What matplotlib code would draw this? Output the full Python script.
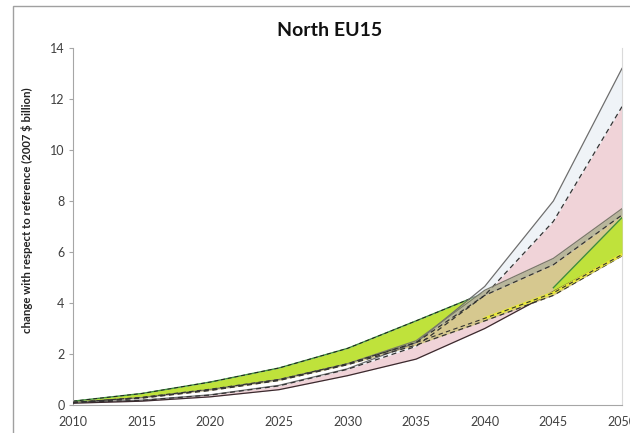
import numpy as np
import matplotlib
matplotlib.use('Agg')
import matplotlib.pyplot as plt
from matplotlib.patches import Rectangle

plt.rcParams['font.family'] = ['Lato', 'DejaVu Sans']

years = np.array([2010, 2015, 2020, 2025, 2030, 2035, 2040, 2045, 2050])

# scenario A: upper / median / lower
a_hi = np.array([0.10, 0.19, 0.40, 0.77, 1.42, 2.45, 4.65, 8.00, 13.20])
a_mid = np.array([0.10, 0.18, 0.39, 0.75, 1.40, 2.30, 4.30, 7.20, 11.70])
a_lo = np.array([0.07, 0.15, 0.32, 0.60, 1.15, 1.80, 3.00, 4.45, 5.90])

# scenario B (green)
b_hi = np.array([0.15, 0.45, 0.90, 1.45, 2.22, 3.30, 4.40, 4.60, 7.35])
b_lo = np.array([0.10, 0.30, 0.62, 1.00, 1.62, 2.45, 3.40, 4.40, 5.90])

# scenario C (tan)
c_hi = np.array([0.10, 0.29, 0.61, 1.00, 1.62, 2.52, 4.50, 5.75, 7.70])
c_mid = np.array([0.10, 0.28, 0.59, 0.98, 1.60, 2.45, 4.30, 5.50, 7.45])
c_lo = np.array([0.09, 0.27, 0.57, 0.96, 1.58, 2.35, 3.30, 4.30, 5.85])

fig = plt.figure(figsize=(6.3, 4.33), dpi=100)
ax = fig.add_axes([73/630, 1 - 405/433, 549/630, 357/433])

dash = (0, (4, 3))

# green band underneath
ax.fill_between(years, b_lo, b_hi, color='#BFE23B', lw=0, zorder=1)
ax.plot(years, b_hi, color='#3F8F3A', lw=1.0, zorder=1.5)
ax.plot(years, b_hi, color='#222222', lw=0.7, ls=dash, zorder=1.5)

# scenario A bands
ax.fill_between(years, a_mid, a_hi, color='#E2EAF2', alpha=0.55, lw=0, zorder=2)
ax.fill_between(years, a_lo, a_mid, color='#F0D3D8', lw=0, zorder=2)

# scenario C bands
ax.fill_between(years, c_mid, c_hi, color='#B8B69B', lw=0, zorder=3)
ax.fill_between(years, c_lo, c_mid, color='#D6C88F', lw=0, zorder=3)

# green band again on top for the last decade
late = years >= 2045
ax.fill_between(years, b_lo, b_hi, where=late, color='#BFE23B', lw=0, zorder=4)
ax.plot(years[late], b_hi[late], color='#3F8F3A', lw=1.0, zorder=6)

# edge lines
ax.plot(years, a_hi, color='#6E6E6E', lw=0.9, zorder=5)
ax.plot(years, a_mid, color='#333333', lw=0.9, ls=dash, zorder=5)
ax.plot(years, a_lo, color='#3A2A2E', lw=0.9, zorder=5)

ax.plot(years, c_hi, color='#7A7A6A', lw=0.9, zorder=5)
ax.plot(years, c_mid, color='#333333', lw=0.9, ls=dash, zorder=5)
ax.plot(years, c_lo, color='#333333', lw=0.9, ls=dash, zorder=5)

ax.plot(years[6:], b_lo[6:], color='#E9E93A', lw=2.0, zorder=6)
ax.plot(years, b_lo, color='#333333', lw=0.8, ls=dash, zorder=6)

ax.set_xlim(2010, 2050)
ax.set_ylim(0, 14)
ax.set_xticks(years)
ax.set_yticks(np.arange(0, 15, 2))

ax.spines['top'].set_visible(False)
ax.spines['right'].set_color('#DADADA')
ax.spines['left'].set_color('#A6A6A6')
ax.spines['bottom'].set_color('#A6A6A6')
ax.tick_params(axis='y', length=3, color='#A6A6A6', labelsize=9, labelcolor='#404040', pad=3)
ax.tick_params(axis='x', length=0, labelsize=9, labelcolor='#404040', pad=8)

ax.set_ylabel('change with respect to reference (2007 $ billion)', fontsize=8.2,
              fontweight='bold', color='#222222')
ax.yaxis.set_label_coords(-0.073, 0.546)

fig.text(330/630, 1 - 30/433, 'North EU15', ha='center', va='center',
         fontsize=14, fontweight='bold', color='#111111')

# chart frame
fig.patches.append(Rectangle((13/630, -0.2), 1.2, 1.2 - 6/433, transform=fig.transFigure,
                             fill=False, edgecolor='#A0A0A0', lw=1.0))

fig.savefig('out.png', dpi=100)
